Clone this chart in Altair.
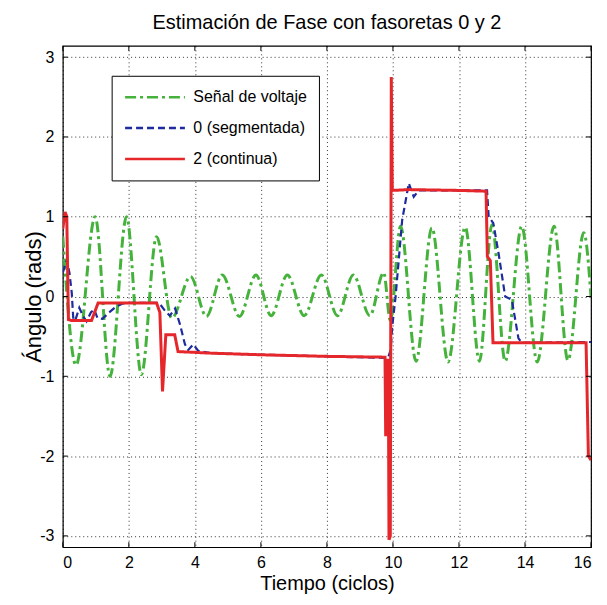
import altair as alt
import pandas as pd

# ---------------- data ----------------
SERIES = ["Señal de voltaje", "0 (segmentada)", "2 (continua)"]
COLORS = ["#45b23c", "#1d2b9e", "#e5262b"]
DASHES = [[11, 4, 3, 4], [7, 4], [1, 0]]

# Señal de voltaje (green dash-dot): peaks / troughs
volt_x = [0.0, 0.40, 0.98, 1.43, 1.93, 2.38, 2.84, 3.30, 3.87, 4.35, 4.83, 5.35,
          5.85, 6.31, 6.80, 7.31, 7.83, 8.32, 8.80, 9.30, 9.72, 9.92, 10.23,
          10.70, 11.18, 11.67, 12.19, 12.62, 13.00, 13.40, 13.90, 14.37, 14.88,
          15.30, 15.78, 16.0]
volt_y = [0.75, -0.86, 1.00, -1.00, 1.00, -0.98, 0.75, -0.27, 0.25, -0.25, 0.27,
          -0.25, 0.27, -0.24, 0.27, -0.24, 0.27, -0.24, 0.27, -0.24, 0.30, -0.30,
          0.88, -0.81, 0.86, -0.82, 0.87, -0.81, 0.90, -0.81, 0.88, -0.82, 0.88,
          -0.80, 0.80, 0.0]

# 0 (segmentada) (blue dashed)
seg_x = [0.0, 0.12, 0.20, 0.27, 0.32, 0.40, 0.50, 0.62, 0.72, 0.85, 0.95, 1.05,
         1.20, 1.40, 1.60, 1.80, 2.00, 2.85, 2.95, 3.10, 3.24, 3.40, 3.55, 3.70,
         3.80, 3.95, 4.10, 4.50, 6.00, 8.00, 9.85, 9.93, 9.98, 10.08, 10.28,
         10.48, 10.63, 10.78, 12.85, 12.90, 13.04, 13.20, 13.40, 13.60, 13.80,
         13.90, 16.0]
seg_y = [0.30, 0.46, 0.30, 0.05, -0.30, -0.27, -0.14, -0.25, -0.31, -0.20, -0.16,
         -0.27, -0.28, -0.20, -0.13, -0.09, -0.08, -0.08, -0.10, -0.18, -0.24,
         -0.15, -0.35, -0.60, -0.67, -0.60, -0.68, -0.71, -0.73, -0.75, -0.77,
         -0.67, -0.37, 0.00, 0.96, 1.42, 1.25, 1.33, 1.33, 1.00, 0.92, 0.54,
         0.00, -0.04, -0.52, -0.58, -0.57]

# 2 (continua) (red solid)
cont_x = [0.0, 0.07, 0.12, 0.17, 0.25, 0.87, 1.07, 2.84, 2.94, 3.02, 3.12, 3.39,
          3.49, 4.50, 6.00, 8.00, 9.76, 9.78, 9.80, 9.86, 9.88, 9.92, 9.95,
          9.98, 10.50, 12.00, 12.82, 12.86, 12.95, 13.03, 14.00, 15.85, 15.92,
          16.0]
cont_y = [0.85, 1.06, 1.00, -0.29, -0.30, -0.30, -0.08, -0.08, -0.20, -1.19,
          -0.48, -0.48, -0.69, -0.71, -0.73, -0.75, -0.76, -1.75, -0.80, -0.80,
          -3.05, -3.00, 2.75, 1.33, 1.34, 1.33, 1.32, 0.50, 0.45, -0.58, -0.58,
          -0.58, -2.00, -2.05]

X_TICKS = [0, 2, 4, 6, 8, 10, 12, 14, 16]
Y_TICKS = [-3, -2, -1, 0, 1, 2, 3]

W, H = 530, 503


def frame(xs, ys, name):
    return pd.DataFrame({"t": xs, "ang": ys, "serie": name, "ord": list(range(len(xs)))})


FONT = "Liberation Sans"

x_enc = alt.X("t:Q", scale=alt.Scale(domain=[0, 16], nice=False, zero=False),
              axis=alt.Axis(values=X_TICKS, title="Tiempo (ciclos)", labelExpr="datum.value"))
y_enc = alt.Y("ang:Q", scale=alt.Scale(domain=[-3.1416, 3.1416], nice=False, zero=False),
              axis=alt.Axis(values=Y_TICKS, title="Ángulo (rads)", labelExpr="datum.value"))

legend = alt.Legend(title=None, orient="none", legendX=49, legendY=30)
color_enc = alt.Color("serie:N", scale=alt.Scale(domain=SERIES, range=COLORS), legend=legend)
dash_enc = alt.StrokeDash("serie:N", scale=alt.Scale(domain=SERIES, range=DASHES), legend=legend)


def layer(df, width, interp):
    return alt.Chart(df).mark_line(strokeWidth=width, interpolate=interp, clip=True).encode(
        x=x_enc, y=y_enc, color=color_enc, strokeDash=dash_enc, order="ord:Q")


green = layer(frame(volt_x, volt_y, SERIES[0]), 3.0, "monotone")
blue = layer(frame(seg_x, seg_y, SERIES[1]), 2.2, "linear")
red = layer(frame(cont_x, cont_y, SERIES[2]), 3.0, "linear")

# inward tick marks (MATLAB style) on all four sides
xt = pd.DataFrame({"t": X_TICKS})
yt = pd.DataFrame({"ang": Y_TICKS})
tick_style = dict(color="black", strokeWidth=1)
tk_bottom = alt.Chart(xt).mark_rule(**tick_style).encode(x=x_enc, y=alt.value(H), y2=alt.value(H - 5))
tk_top = alt.Chart(xt).mark_rule(**tick_style).encode(x=x_enc, y=alt.value(0), y2=alt.value(5))
tk_left = alt.Chart(yt).mark_rule(**tick_style).encode(y=y_enc, x=alt.value(0), x2=alt.value(5))
tk_right = alt.Chart(yt).mark_rule(**tick_style).encode(y=y_enc, x=alt.value(W), x2=alt.value(W - 5))

chart = alt.layer(green, blue, red, tk_bottom, tk_top, tk_left, tk_right).properties(
    width=W, height=H,
    title=alt.TitleParams("Estimación de Fase con fasoretas 0 y 2", fontSize=20,
                          font=FONT, fontWeight="normal", color="black", offset=12),
    autosize=alt.AutoSizeParams(type="none"),
    padding={"left": 55, "top": 37, "right": 8, "bottom": 52},
).configure_view(
    stroke="black", strokeWidth=1.2
).configure_axis(
    grid=True, gridColor="black", gridDash=[1, 3], gridOpacity=0.8, gridWidth=1,
    ticks=False, domain=False,
    labelFont=FONT, labelFontSize=16, labelColor="black",
    titleFont=FONT, titleFontWeight="normal", titleColor="black",
).configure_axisX(
    labelPadding=7, titleFontSize=20, titlePadding=3,
).configure_axisY(
    labelPadding=9, titleFontSize=22, titlePadding=-6,
).configure_legend(
    strokeColor="black", fillColor="white", padding=12, cornerRadius=0,
    symbolType="stroke", symbolSize=3600, symbolStrokeWidth=2.5,
    labelFont=FONT, labelFontSize=16, labelColor="black", labelOffset=7,
    clipHeight=19, rowPadding=12, labelLimit=300,
)

chart.save("out.html", embed_options={"renderer": "svg", "actions": False})
